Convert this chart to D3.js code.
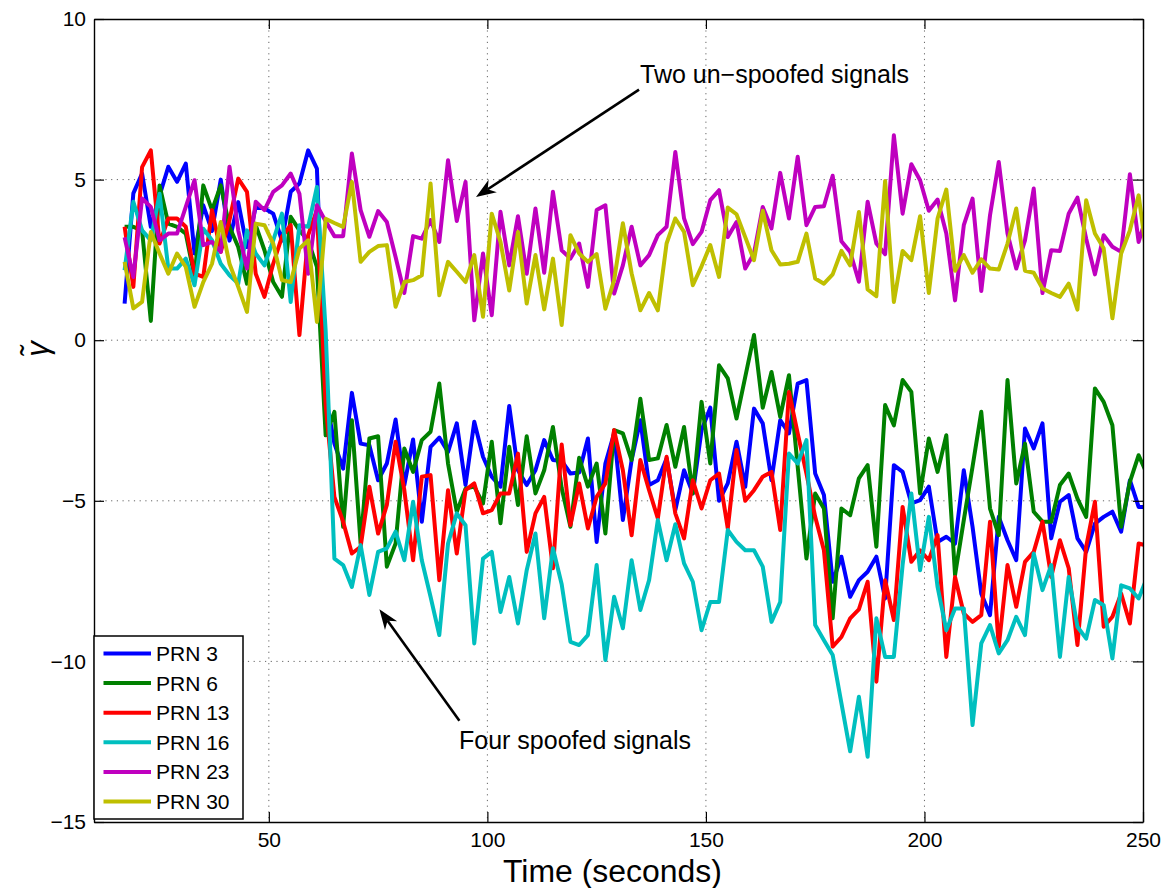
<!DOCTYPE html>
<html><head><meta charset="utf-8">
<script src="https://cdn.jsdelivr.net/npm/d3@7"></script>
<style>
body{margin:0;background:#fff;}
text{font-family:"Liberation Sans",Arial,Helvetica,sans-serif;fill:#000;}
</style>
</head><body>
<svg id="chart" width="1168" height="888"></svg>
<script>
// ---- data (sampled every 2 s starting at t = 17 s) ----
const timeStart = 17, timeStep = 2;
const prn3 = [1.14,4.57,5.19,3.53,4.5,5.4,4.93,5.5,2.7,4.2,3.4,5.0,3.1,4.3,2.9,4.15,4.1,3.94,3.1,4.62,4.88,5.91,5.34,-1.76,
 -3.22,-4.0,-1.64,-3.22,-3.27,-4.36,-3.84,-2.47,-4.51,-3.09,-5.65,-3.32,-3.03,-3.48,-2.59,-4.51,-2.54,-3.63,-4.25,-4.56,-2.05,-4.05,-4.51,-4.05,-3.11,-3.73,-3.76,-4.15,-4.12,
 -3.06,-6.28,-3.84,-2.9,-5.6,-3.73,-2.49,-4.51,-4.36,-3.68,-5.29,-4.05,-4.77,-2.8,-2.1,-5.0,-4.46,-3.16,-4.56,-2.13,-2.59,-4.36,-2.49,-2.9,-1.35,-1.24,-4.15,-4.82,-7.52,-6.74,-7.99,-7.47,
 -7.21,-6.74,-8.04,-3.89,-4.1,-5.08,-4.98,-4.56,-6.28,-6.12,-6.33,-4.05,-5.81,-7.89,-8.56,-5.5,-6.23,-6.85,-2.75,-3.37,-2.59,-6.17,-5.03,-4.82,-6.17,-6.59,-5.71,-5.5,-5.34,-5.96,-4.36,-5.19,-5.19];
const prn6 = [3.53,3.53,3.42,0.6,4.82,3.63,3.53,3.32,1.97,4.82,4.05,4.82,3.53,2.9,1.76,3.58,2.8,1.81,1.35,3.84,3.42,3.11,2.28,-2.96,
 -2.23,-5.81,-2.49,-6.33,-3.06,-2.99,-7.05,-6.33,-3.37,-4.1,-3.11,-2.85,-1.35,-3.84,-5.34,-4.62,-4.56,-5.08,-3.16,-5.7,-3.32,-5.13,-2.99,-4.77,-4.05,-2.7,-4.6,-5.81,-3.66,
 -4.56,-3.84,-6.02,-2.8,-2.9,-3.73,-1.82,-3.73,-3.68,-2.64,-3.94,-2.7,-4.77,-1.92,-3.84,-0.78,-1.19,-2.44,-1.14,0.16,-2.1,-0.99,-2.39,-1.09,-3.94,-6.8,-4.77,-5.24,-8.66,-5.24,-5.45,-4.3,
 -3.89,-6.43,-2.02,-2.65,-1.24,-1.61,-4.77,-3.06,-4.1,-2.96,-7.31,-5.6,-3.94,-2.23,-5.24,-6.07,-1.24,-4.46,-3.22,-5.34,-5.65,-5.65,-4.51,-4.15,-4.93,-5.5,-1.5,-1.92,-2.65,-5.81,-4.41,-3.58,-4.2];
const prn13 = [3.53,1.66,5.39,5.91,3.01,3.79,3.79,3.53,2.07,1.97,4.05,2.75,3.74,5.03,4.62,2.07,1.35,2.38,3.22,3.58,0.16,3.27,4.05,-2.0,
 -4.88,-5.65,-6.64,-6.43,-4.56,-6.02,-5.13,-3.16,-4.67,-6.85,-4.25,-4.2,-7.47,-4.67,-6.64,-4.67,-4.46,-5.39,-5.29,-4.77,-4.77,-3.53,-6.59,-5.39,-4.88,-7.1,-3.25,-5.76,-4.46,
 -5.86,-4.88,-4.46,-2.8,-4.05,-6.07,-3.73,-4.67,-5.55,-3.63,-5.39,-6.17,-4.36,-5.24,-4.36,-4.15,-5.86,-3.42,-5.0,-4.67,-4.25,-4.1,-5.91,-1.61,-2.9,-4.15,-5.5,-6.54,-9.54,-9.24,-8.66,-8.38,
 -7.52,-10.63,-7.47,-8.71,-5.19,-6.9,-6.54,-6.85,-6.07,-9.86,-7.37,-8.51,-8.77,-8.56,-5.65,-9.54,-7.0,-8.3,-6.9,-6.59,-5.65,-7.37,-6.23,-7.1,-9.49,-6.43,-5.03,-8.92,-8.61,-7.89,-8.82,-6.33,-6.4];
const prn16 = [2.18,4.31,3.42,3.11,4.56,2.23,2.23,2.54,1.71,3.47,3.11,2.38,2.02,1.76,3.42,2.7,2.33,3.11,3.94,1.19,3.58,3.53,4.77,0.3,
 -6.8,-7.0,-7.68,-6.38,-7.93,-6.59,-6.48,-5.96,-6.85,-5.03,-6.85,-7.99,-9.18,-6.33,-5.39,-5.76,-9.44,-6.8,-6.59,-8.46,-7.37,-8.82,-7.16,-6.02,-8.66,-6.48,-7.6,-9.39,-9.49,
 -9.18,-7.0,-9.96,-7.99,-8.97,-6.85,-8.4,-7.47,-5.6,-6.85,-5.73,-6.95,-7.52,-9.03,-8.15,-8.15,-5.91,-6.28,-6.54,-6.54,-7.05,-8.77,-8.15,-3.53,-3.84,-3.11,-8.87,-9.34,-9.8,-11.3,-12.8,-11.1,
 -12.97,-8.66,-9.86,-9.86,-7.0,-4.77,-7.16,-5.5,-7.68,-9.03,-8.35,-8.35,-11.98,-9.44,-8.87,-9.75,-9.34,-8.61,-9.18,-6.64,-7.78,-7.0,-9.86,-7.37,-8.92,-9.29,-8.09,-8.25,-9.91,-7.63,-7.73,-8.04,-7.37];
const prn23 = [3.2,1.97,4.41,4.15,3.11,3.32,3.32,4.15,4.98,2.96,3.06,2.75,5.4,3.42,2.23,4.31,4.05,4.62,4.82,5.19,4.56,2.07,4.2,3.7,
 3.24,3.24,5.81,4.05,3.22,4.02,3.68,2.59,1.47,3.24,3.16,3.74,3.06,5.6,3.71,4.93,0.62,2.7,0.78,4.0,2.33,3.86,2.07,4.1,2.1,4.62,2.8,2.54,3.01,
 1.66,4.05,4.2,1.45,2.33,3.53,2.33,2.65,3.27,3.53,5.86,3.79,2.99,3.37,4.36,4.67,3.21,3.68,2.23,2.7,4.15,3.48,5.21,3.79,5.71,3.58,4.15,4.17,5.12,3.08,2.75,1.82,
 4.31,3.01,2.68,6.38,3.94,5.48,4.98,4.03,4.38,3.32,1.24,3.58,4.41,1.53,3.89,5.55,3.32,2.23,3.11,4.72,1.47,2.8,2.78,3.94,4.44,3.16,2.05,3.27,2.91,2.75,5.17,3.06,3.94];
const prn30 = [2.44,0.99,1.19,3.37,2.7,2.07,2.7,2.28,1.04,1.81,2.38,3.68,2.38,1.66,0.88,3.63,3.58,3.01,1.87,1.81,2.85,3.11,0.57,3.78,
 3.65,3.53,4.93,2.44,2.75,2.93,2.96,1.04,1.81,1.87,2.02,4.88,1.4,2.44,2.13,1.81,2.65,0.73,3.94,3.06,1.55,3.37,1.14,2.65,0.96,2.54,0.47,3.27,2.7,
 2.44,2.68,0.98,1.87,3.64,2.08,0.93,1.47,0.93,3.01,3.79,3.37,1.71,2.3,2.96,1.97,4.13,3.92,3.21,2.49,4.03,2.8,2.36,2.38,2.44,3.32,1.92,1.76,2.05,2.78,2.33,3.99,
 1.58,1.37,4.96,1.19,2.78,2.49,3.86,1.47,3.79,4.69,2.16,2.65,2.1,2.52,2.23,2.2,3.01,4.1,2.16,2.1,1.61,1.47,1.35,1.76,0.95,4.36,3.32,2.86,0.68,2.7,3.42,4.51,2.49];

const seriesNames = ["PRN 3","PRN 6","PRN 13","PRN 16","PRN 23","PRN 30"];
const seriesValues = [prn3, prn6, prn13, prn16, prn23, prn30];
const seriesColors = ["#0000ff","#008000","#ff0000","#00bfbf","#bf00bf","#bfbf00"];
const xTicks = [50,100,150,200,250];
const yTicks = [-15,-10,-5,0,5,10];
const xDomain = [10,250], yDomain = [-15,10];
const xLabel = "Time (seconds)";
const yLabel = "\u03B3\u0303";
const annTop = {text:"Two un\u2212spoofed signals", from:[134.7,7.8], to:[97.4,4.46]};
const annBottom = {text:"Four spoofed signals", from:[93.6,-11.85], to:[75.3,-8.38]};

// ---- layout ----
const svg = d3.select("#chart");
const L = 94, R = 1143, T = 19, B = 822;
const x = d3.scaleLinear().domain(xDomain).range([L, R]);
const y = d3.scaleLinear().domain(yDomain).range([B, T]);

svg.append("rect").attr("width",1168).attr("height",888).attr("fill","#fff");
svg.append("defs").append("clipPath").attr("id","plotclip")
  .append("rect").attr("x",L).attr("y",T).attr("width",R-L).attr("height",B-T);

// grid
const grid = svg.append("g").attr("stroke","#666").attr("stroke-width",1).attr("stroke-dasharray","1.2,4.5");
xTicks.forEach(v=>{ if(x(v)<R-1) grid.append("line").attr("x1",x(v)).attr("x2",x(v)).attr("y1",T).attr("y2",B); });
yTicks.forEach(v=>{ if(y(v)>T+1 && y(v)<B-1) grid.append("line").attr("y1",y(v)).attr("y2",y(v)).attr("x1",L).attr("x2",R); });

// series
const line = d3.line().x((d,i)=>x(timeStart + i*timeStep)).y(d=>y(d));
const lines = svg.append("g").attr("clip-path","url(#plotclip)");
seriesValues.forEach((vals,k)=>{
  lines.append("path").datum(vals).attr("d",line)
    .attr("fill","none").attr("stroke",seriesColors[k]).attr("stroke-width",4)
    .attr("stroke-linejoin","round").attr("stroke-linecap","butt");
});

// axes (box with inward ticks on all sides)
const tl = 10;
const axB = svg.append("g").attr("transform",`translate(0,${B})`)
  .call(d3.axisBottom(x).tickValues(xTicks).tickSizeInner(-tl).tickSizeOuter(0).tickPadding(10).tickFormat(d3.format("d")));
const axT = svg.append("g").attr("transform",`translate(0,${T})`)
  .call(d3.axisTop(x).tickValues(xTicks).tickSizeInner(-tl).tickSizeOuter(0).tickFormat(""));
const axLft = svg.append("g").attr("transform",`translate(${L},0)`)
  .call(d3.axisLeft(y).tickValues(yTicks).tickSizeInner(-tl).tickSizeOuter(0).tickPadding(8).tickFormat(d3.format("d")));
const axRt = svg.append("g").attr("transform",`translate(${R},0)`)
  .call(d3.axisRight(y).tickValues(yTicks).tickSizeInner(-tl).tickSizeOuter(0).tickFormat(""));
[axB,axT,axLft,axRt].forEach(a=>{
  a.select(".domain").attr("stroke","#000").attr("stroke-width",1.4);
  a.selectAll(".tick line").attr("stroke","#000").attr("stroke-width",1.2);
  a.selectAll("text").attr("font-family","'Liberation Sans',Arial,sans-serif").attr("font-size",21).attr("fill","#000");
});

// axis labels
svg.append("text").attr("x",612.5).attr("y",882).attr("text-anchor","middle")
  .attr("font-size",31).attr("textLength",219).attr("lengthAdjust","spacingAndGlyphs").text(xLabel);
svg.append("text").attr("transform","translate(48,349) rotate(-90)").attr("text-anchor","middle")
  .attr("font-family","'DejaVu Serif','Liberation Serif',serif").attr("font-style","italic")
  .attr("font-size",31).text(yLabel);

// annotations
function arrow(a){
  const x1=x(a.from[0]), y1=y(a.from[1]), x2=x(a.to[0]), y2=y(a.to[1]);
  const ang = Math.atan2(y2-y1, x2-x1);
  const g = svg.append("g");
  const hl = 20, hw = 7.5, notch = 14;
  const ex = x2 - Math.cos(ang)*notch, ey = y2 - Math.sin(ang)*notch;
  g.append("line").attr("x1",x1).attr("y1",y1).attr("x2",ex).attr("y2",ey)
    .attr("stroke","#000").attr("stroke-width",2.6);
  const pts = [[0,0],[-hl,-hw],[-notch,0],[-hl,hw]].map(([px,py])=>[
    x2 + px*Math.cos(ang) - py*Math.sin(ang),
    y2 + px*Math.sin(ang) + py*Math.cos(ang)]);
  g.append("polygon").attr("points",pts.map(p=>p.join(",")).join(" ")).attr("fill","#000");
}
arrow(annTop); arrow(annBottom);
svg.append("text").attr("x",640).attr("y",83).attr("font-size",25).text(annTop.text);
svg.append("text").attr("x",459).attr("y",749).attr("font-size",25).text(annBottom.text);

// legend
const lg = svg.append("g");
const lgX = 94, lgY = 636, lgW = 149, lgH = 183, rowH = 29.6;
lg.append("rect").attr("x",lgX).attr("y",lgY).attr("width",lgW).attr("height",lgH)
  .attr("fill","#fff").attr("stroke","#000").attr("stroke-width",1.5);
seriesNames.forEach((n,k)=>{
  const cy = lgY + 17.5 + k*rowH;
  lg.append("line").attr("x1",lgX+9.5).attr("x2",lgX+57).attr("y1",cy).attr("y2",cy)
    .attr("stroke",seriesColors[k]).attr("stroke-width",4);
  lg.append("text").attr("x",lgX+62).attr("y",cy+7.5).attr("font-size",21).text(n);
});
</script>
</body></html>
